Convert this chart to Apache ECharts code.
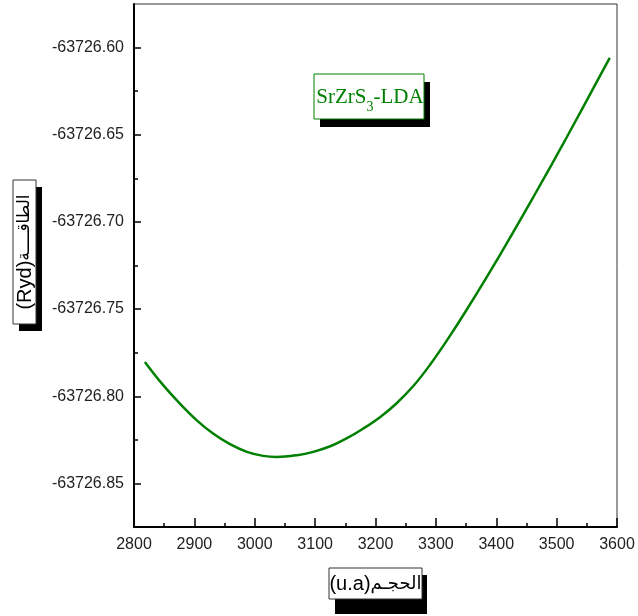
<!DOCTYPE html>
<html>
<head>
<meta charset="utf-8">
<script src="https://cdn.jsdelivr.net/npm/echarts@6.0.0/dist/echarts.min.js"></script>
<style>
  html, body { margin: 0; padding: 0; background: #fff; }
  #main { width: 638px; height: 616px; }
</style>
</head>
<body>
<div id="main"></div>
<script>
// volume (u.a)
const volumes = [2818, 2848, 2876, 2904, 2931, 2959, 2987, 3014, 3036, 3070, 3097, 3125,
  3152, 3180, 3208, 3235, 3263, 3290, 3320, 3351, 3406, 3461, 3517, 3572, 3588];
// total energy (Ryd)
const energies = [-63726.7803, -63726.7935, -63726.8042, -63726.8138, -63726.8214, -63726.8275,
  -63726.8319, -63726.8342, -63726.8348, -63726.8338, -63726.8319, -63726.8287,
  -63726.8242, -63726.8185, -63726.8119, -63726.8040, -63726.7940, -63726.7821,
  -63726.7671, -63726.7504, -63726.7190, -63726.6860, -63726.6513, -63726.6161, -63726.6059];

const xTicks = [2800, 2900, 3000, 3100, 3200, 3300, 3400, 3500, 3600];
const yMajor = [-63726.85, -63726.80, -63726.75, -63726.70, -63726.65, -63726.60];
const yMinor = [-63726.825, -63726.775, -63726.725, -63726.675, -63726.625];
const yMin = -63726.875, yMax = -63726.575;

const chart = echarts.init(document.getElementById('main'));
const font = "'Liberation Sans', Arial, sans-serif";
const arFont = "'DejaVu Sans', sans-serif";

const option = {
  animation: false,
  grid: {
    left: 134, top: 4, right: 21, bottom: 89,
    show: true, borderColor: '#333', borderWidth: 1
  },
  xAxis: {
    type: 'value', min: xTicks[0], max: xTicks[xTicks.length - 1], interval: 100,
    axisLine: { lineStyle: { color: '#000', width: 2 } },
    axisTick: { inside: true, length: 9, lineStyle: { color: '#000', width: 1.5 } },
    minorTick: { show: true, splitNumber: 2, length: 4, lineStyle: { color: '#000', width: 1.5 } },
    splitLine: { show: false },
    axisLabel: { margin: 10, fontSize: 16, fontFamily: font, color: '#222', formatter: v => String(v) }
  },
  yAxis: [{
    type: 'value', min: yMin, max: yMax,
    axisLine: { show: true, lineStyle: { color: '#000', width: 2 } },
    axisTick: { show: true, inside: true, length: 7, customValues: yMajor, lineStyle: { color: '#000', width: 1.5 } },
    axisLabel: {
      margin: 10, fontSize: 16, fontFamily: font, color: '#222',
      customValues: yMajor,
      formatter: v => v.toFixed(2)
    },
    splitLine: { show: false }
  }, {
    type: 'value', min: yMin, max: yMax, position: 'left',
    axisLine: { show: false },
    axisTick: { show: true, inside: true, length: 4, customValues: yMinor, lineStyle: { color: '#000', width: 1.5 } },
    axisLabel: { show: false },
    splitLine: { show: false }
  }],
  series: [{
    type: 'line',
    data: volumes.map((v, i) => [v, energies[i]]),
    smooth: 0.4,
    showSymbol: false,
    lineStyle: { color: '#008000', width: 2.5 }
  }],
  graphic: [
    // title box
    { type: 'rect', shape: { x: 320, y: 82, width: 110, height: 45 }, style: { fill: '#000' } },
    { type: 'rect', shape: { x: 314, y: 74, width: 110, height: 45 }, style: { fill: '#fff', stroke: '#008000', lineWidth: 1 } },
    {
      type: 'text', x: 370, y: 97,
      style: {
        text: '{a|SrZrS}{b|3}{a|-LDA}',
        align: 'center', verticalAlign: 'middle',
        rich: {
          a: { fontSize: 21, fontFamily: "'Liberation Serif', 'Times New Roman', serif", fill: '#008000' },
          b: { fontSize: 14, fontFamily: "'Liberation Serif', 'Times New Roman', serif", fill: '#008000', padding: [20, 0, 0, 0] }
        }
      }
    },
    // y name box
    { type: 'rect', shape: { x: 19, y: 187, width: 23, height: 144 }, style: { fill: '#000' } },
    { type: 'rect', shape: { x: 13, y: 180, width: 23, height: 144 }, style: { fill: '#fff', stroke: '#333', lineWidth: 1 } },
    {
      type: 'text', x: 25, y: 252, rotation: Math.PI / 2,
      style: {
        text: '{a|(Ryd)}{b|الطاقــــة}', align: 'center', verticalAlign: 'middle',
        rich: {
          a: { fontSize: 20, fontFamily: font, fill: '#000' },
          b: { fontSize: 17, fontFamily: arFont, fill: '#000' }
        }
      }
    },
    // x name box
    { type: 'rect', shape: { x: 335, y: 575, width: 92, height: 39 }, style: { fill: '#000' } },
    { type: 'rect', shape: { x: 329, y: 568, width: 93, height: 31 }, style: { fill: '#fff', stroke: '#333', lineWidth: 1 } },
    {
      type: 'text', x: 375.5, y: 584,
      style: {
        text: '{a|(u.a)}{b|الحجـم}', align: 'center', verticalAlign: 'middle',
        rich: {
          a: { fontSize: 20, fontFamily: font, fill: '#000' },
          b: { fontSize: 18, fontFamily: arFont, fill: '#000' }
        }
      }
    }
  ]
};
chart.setOption(option);
</script>
</body>
</html>
